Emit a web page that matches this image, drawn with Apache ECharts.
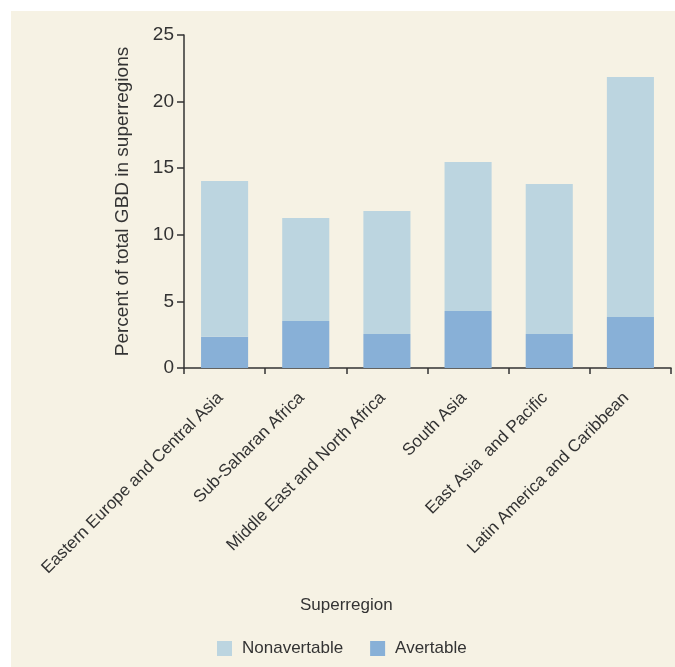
<!DOCTYPE html>
<html>
<head>
<meta charset="utf-8">
<script src="https://cdn.jsdelivr.net/npm/echarts@6/dist/echarts.min.js"></script>
<style>
html,body{margin:0;padding:0;background:#fff;}
#c{width:675px;height:667px;}
</style>
</head>
<body>
<div id="c"></div>
<script>
const categories = ["Eastern Europe and Central Asia","Sub-Saharan Africa","Middle East and North Africa","South Asia","East Asia  and Pacific","Latin America and Caribbean"];
const avertable = [2.35, 3.53, 2.55, 4.28, 2.55, 3.83];
const nonavertable = [11.69, 7.73, 9.24, 11.19, 11.26, 18.02];
const yTicks = [0, 5, 10, 15, 20, 25];

const FONT = '"Liberation Sans", Arial, sans-serif';
const TXT = '#333333';
const chart = echarts.init(document.getElementById('c'));
chart.setOption({
  animation: false,
  backgroundColor: '#ffffff',
  graphic: [{
    type: 'rect', z: -10, silent: true,
    shape: {x: 11, y: 11, width: 664, height: 656},
    style: {fill: '#F6F2E4'}
  }],
  title: {
    text: 'Superregion',
    left: 300, top: 597, padding: 0,
    textStyle: {fontFamily: FONT, fontSize: 17, fontWeight: 'normal', color: TXT}
  },
  legend: {
    left: 217, top: 640, padding: 0,
    itemWidth: 15, itemHeight: 15, itemGap: 27,
    icon: 'rect',
    textStyle: {fontFamily: FONT, fontSize: 17, color: TXT, padding: [0,0,0,5]},
    data: ['Nonavertable', 'Avertable']
  },
  grid: {left: 184, top: 35, right: 4, bottom: 299, containLabel: false},
  xAxis: {
    type: 'category',
    data: categories,
    axisLine: {lineStyle: {color: '#333', width: 1.5}},
    axisTick: {show: true, length: 6, lineStyle: {color: '#333', width: 1.5}},
    axisLabel: {rotate: 45, fontFamily: FONT, fontSize: 17, color: TXT, margin: 23, interval: 0,
      padding: [0, 6, 0, 0]}
  },
  yAxis: {
    type: 'value',
    min: 0, max: 25, interval: 5,
    name: 'Percent of total GBD in superregions',
    nameLocation: 'middle', nameGap: 52, nameRotate: 90,
    nameTextStyle: {fontFamily: FONT, fontSize: 19, color: TXT},
    axisLine: {show: true, lineStyle: {color: '#333', width: 1.5}},
    axisTick: {show: true, length: 7, lineStyle: {color: '#333', width: 1.5}},
    splitLine: {show: false},
    axisLabel: {fontFamily: FONT, fontSize: 19, color: TXT, margin: 10,
      formatter: v => yTicks.includes(v) ? String(v) : ''}
  },
  series: [
    {name: 'Avertable', type: 'bar', stack: 't', data: avertable, barWidth: '58%',
      itemStyle: {color: '#88B0D7'}},
    {name: 'Nonavertable', type: 'bar', stack: 't', data: nonavertable, barWidth: '58%',
      itemStyle: {color: '#BCD5E0'}}
  ]
});
</script>
</body>
</html>
